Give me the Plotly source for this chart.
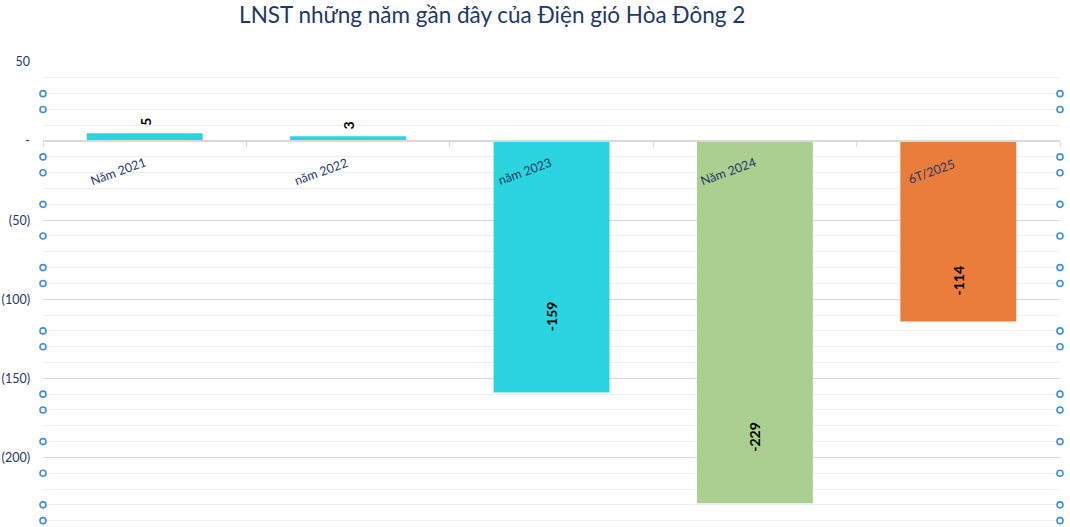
import plotly.graph_objects as go

categories = ['Năm 2021', 'năm 2022', 'năm 2023', 'Năm 2024', '6T/2025']
profit = [5, 3, -159, -229, -114]
bar_colors = ['#2BD5E0', '#2BD5E0', '#2BD5E0', '#ABCF91', '#EA7D3B']

# where the rotated value labels sit (Excel put them oddly inside the bars)
label_y = [5, 3, -111, -187, -88]

tick_vals = [50, 0, -50, -100, -150, -200]
tick_text = ['50', '-', '(50)', '(100)', '(150)', '(200)']

# stray hollow markers sitting on the gridlines at both edges of the plot
dot_values = [30, 20, -10, -20, -40, -60, -80, -90, -120, -130, -160, -170, -190, -210, -230, -240]

y_min, y_max = -244, 50
navy = '#1F3864'
font = 'Lato, Calibri, sans-serif'

bars = go.Bar(x=categories, y=profit, marker={'color': bar_colors, 'line': {'width': 0}},
              width=0.57, showlegend=False, hoverinfo='skip')

dots = go.Scatter(x=[0] * len(dot_values) + [1] * len(dot_values), y=dot_values + dot_values,
                  xaxis='x2', mode='markers', cliponaxis=False, showlegend=False, hoverinfo='skip',
                  marker={'symbol': 'circle-open', 'size': 6, 'color': '#3D8FDC', 'line': {'width': 1.6}})

fig = go.Figure(data=[bars, dots])

annotations = []
for cat, val, pos in zip(categories, profit, label_y):
    annotations.append(dict(x=cat, y=pos, text='<b>{}</b>'.format(val), showarrow=False, textangle=-90,
                            yanchor='bottom' if val > 0 else 'middle', yshift=5 if val > 0 else 0,
                            font={'family': font, 'size': 14, 'color': '#000000'}))
    annotations.append(dict(x=cat, y=0, text=cat, showarrow=False, textangle=-20,
                            xanchor='center', yanchor='middle', xshift=-27, yshift=-30,
                            font={'family': font, 'size': 12.5, 'color': navy}))

fig.update_layout(
    width=1070, height=527,
    margin={'l': 43, 'r': 10, 't': 62, 'b': 0},
    plot_bgcolor='white', paper_bgcolor='white',
    title={'text': 'LNST những năm gần đây của Điện gió Hòa Đông 2', 'x': 0.46, 'xanchor': 'center',
           'y': 0.972, 'yanchor': 'middle', 'font': {'family': font, 'size': 22.5, 'color': navy}},
    xaxis={'type': 'category', 'anchor': 'free', 'position': (0 - y_min) / (y_max - y_min),
           'showline': True, 'linecolor': '#D9D9D9', 'linewidth': 1.5,
           'ticks': 'outside', 'tickson': 'boundaries', 'ticklen': 5, 'tickcolor': '#D9D9D9',
           'showticklabels': False, 'showgrid': False},
    xaxis2={'overlaying': 'x', 'range': [0, 1], 'visible': False},
    yaxis={'range': [y_min, y_max], 'tickvals': tick_vals, 'ticktext': tick_text, 'automargin': False,
           'tickfont': {'family': font, 'size': 12.5, 'color': navy}, 'ticklabelstandoff': 12,
           'showgrid': True, 'gridcolor': '#D9D9D9', 'gridwidth': 1, 'zeroline': False,
           'minor': {'dtick': 10, 'showgrid': True, 'gridcolor': '#EFEFEF', 'gridwidth': 1}},
    annotations=annotations,
)

fig.write_html('out.html', config={'displayModeBar': False},
               post_script="document.body.style.margin='0';")
